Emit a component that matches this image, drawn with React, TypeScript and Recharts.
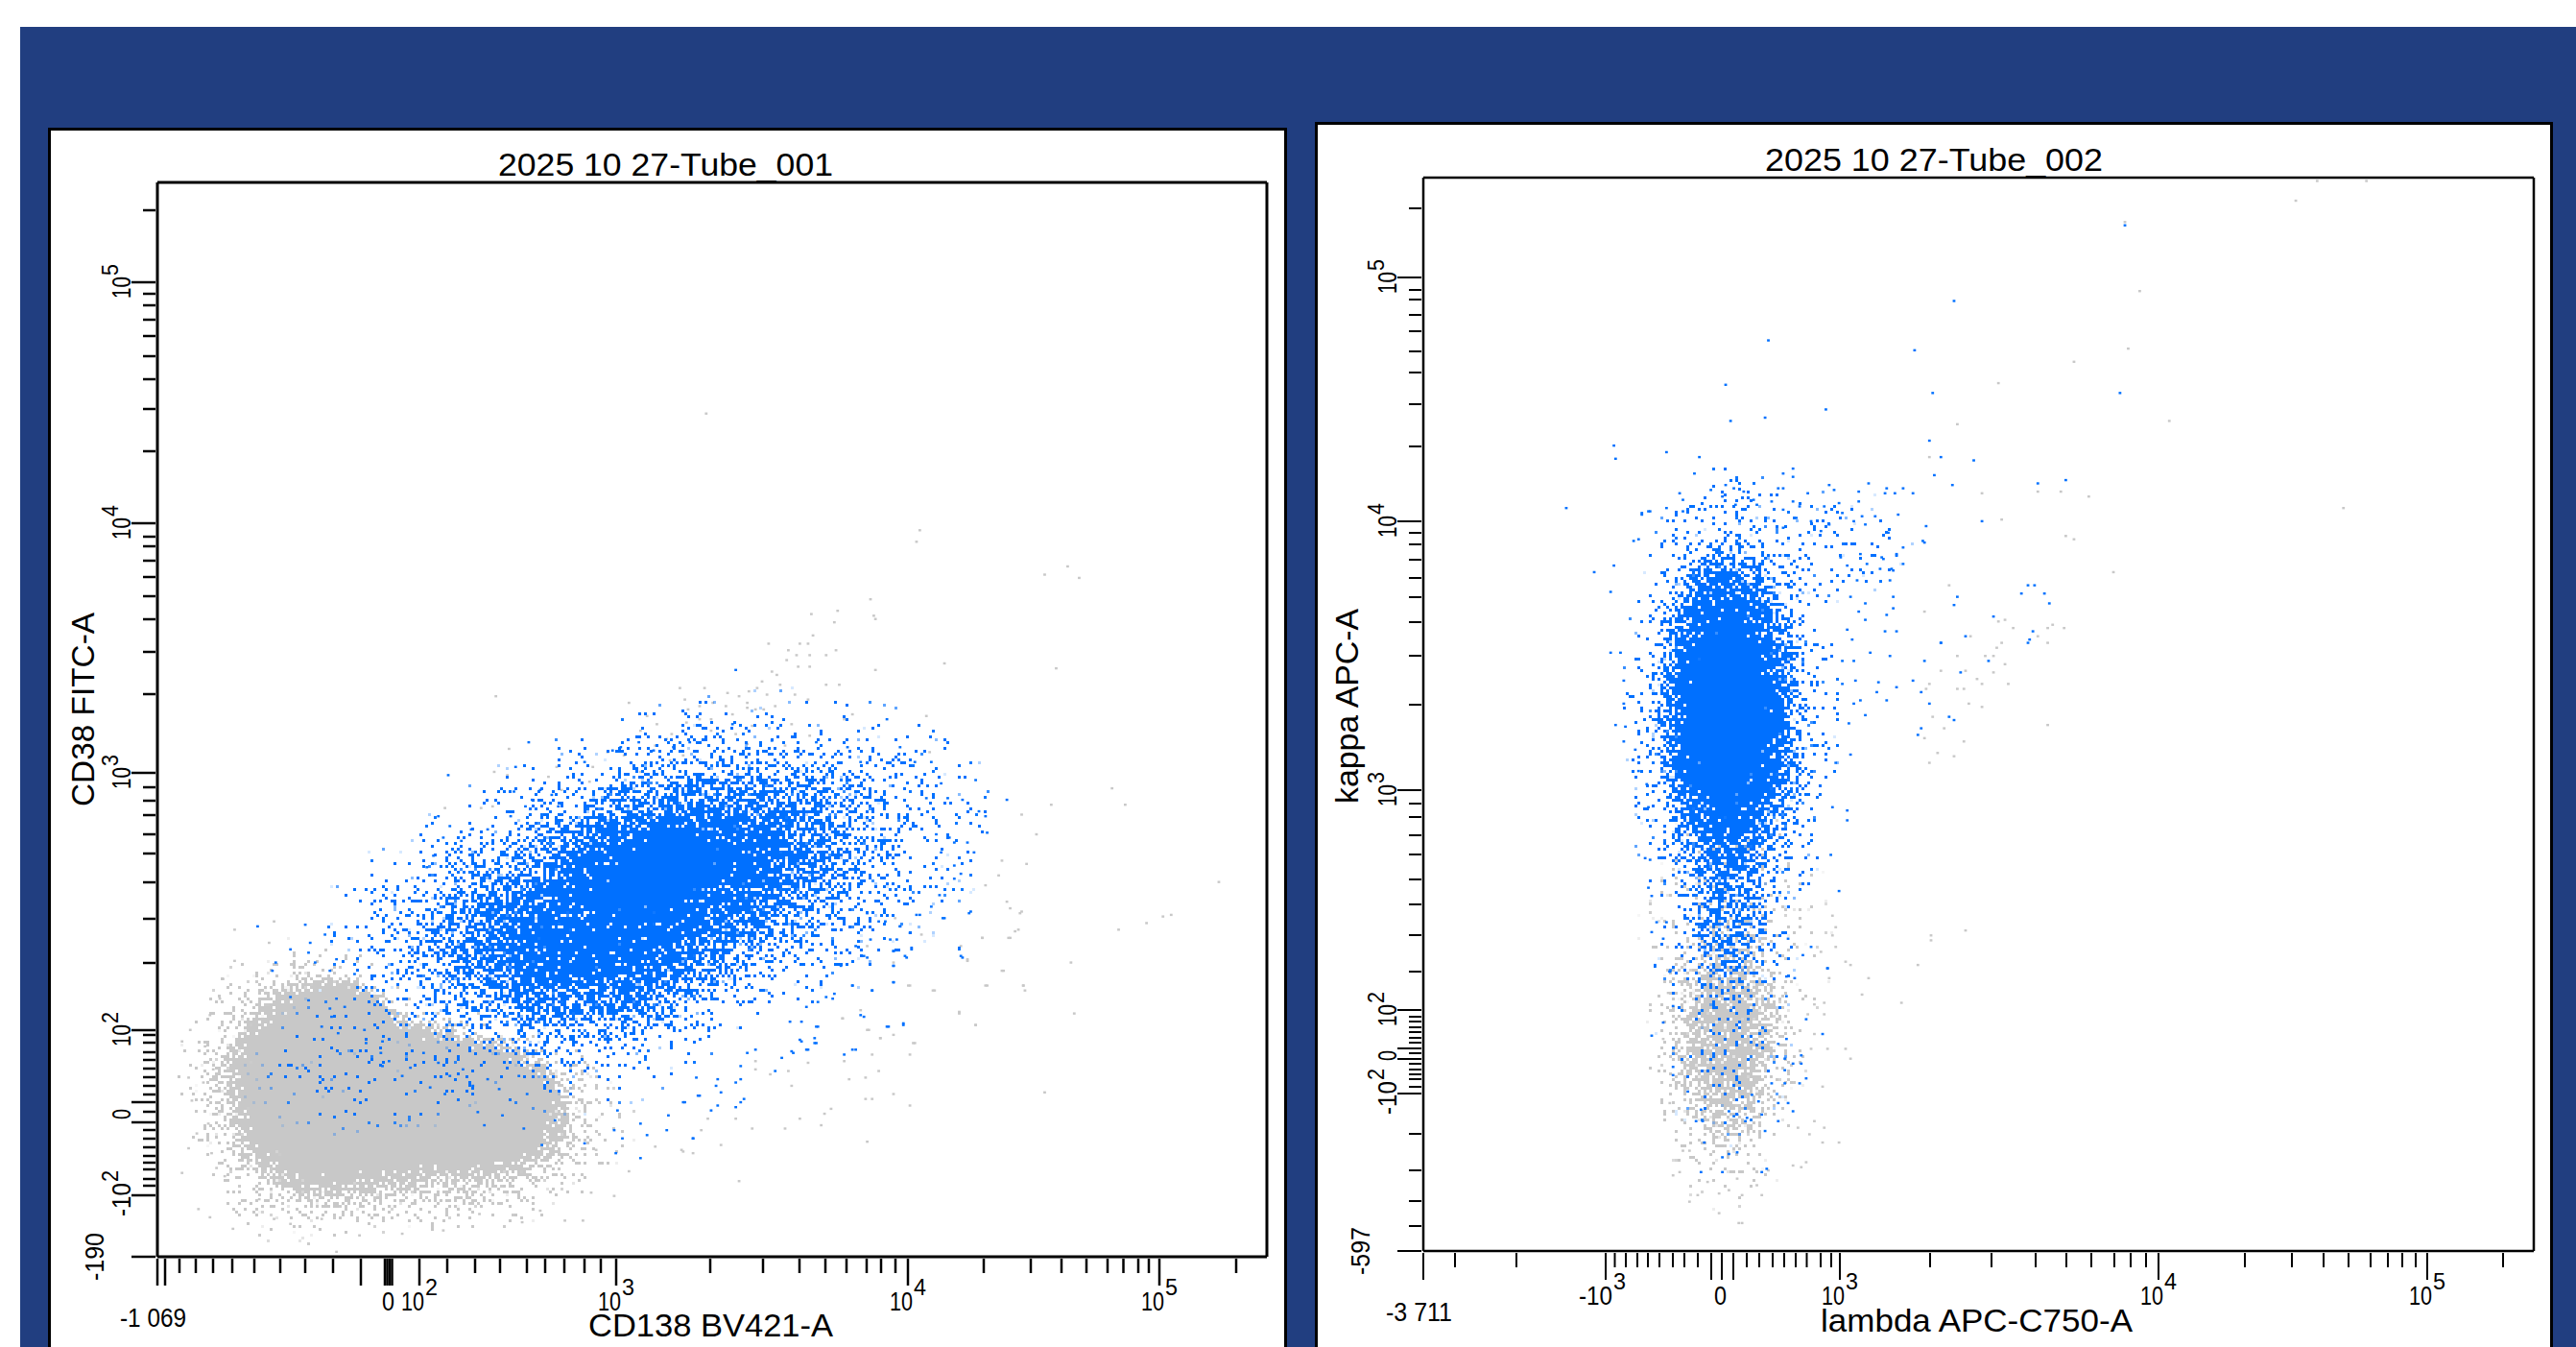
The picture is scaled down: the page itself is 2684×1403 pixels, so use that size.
import { ScatterChart, Scatter, XAxis, YAxis, ReferenceLine } from 'recharts'

// all values are display channels of the biexponential cytometer scale
const PX_PER_CHANNEL = 1.712

// ---------- Tube_001 : CD138 BV421-A vs CD38 FITC-A ----------
const tube1XTickRaw = [0, 8, 23, 40, 58, 78, 101, 128, 154, 183, 212, 237, 239.5, 242, 244.5, 273, 302, 331, 357, 385, 404, 424, 445, 462, 478, 576, 631, 669, 696, 718, 739, 754, 769, 782, 861, 910, 942, 968, 990, 1006.5, 1022, 1033, 1044, 1124]
const tube1XLong = [0, 8, 212, 237, 239.5, 242, 244.5, 273, 478, 782, 1044]
const tube1XLabels: [number, string, string][] = [[0, '-1 069', ''], [242, '0', ''], [273, '10', '2'], [478, '10', '3'], [782, '10', '4'], [1044, '10', '5']]
const tube1YTickRaw = [1090, 1015, 1003, 991, 976, 959, 938, 914, 883, 839, 764, 750, 740, 725, 708, 688, 664, 630, 586, 504, 489, 475, 460, 440, 420, 390, 352, 306, 236, 231, 223, 213, 205, 196, 187, 178, 169, 161, 151, 140, 132, 123, 114, 105, 98, 91, 81, 74, 64, 0]
const tube1YLong = [1015, 764, 504, 236, 161, 140, 64, 0]
const tube1YLabels: [number, string, string][] = [[1015, '10', '5'], [764, '10', '4'], [504, '10', '3'], [236, '10', '2'], [151, '0', ''], [64, '-10', '2'], [0, '-190', '']]

// population density [x, y, rx, ry, tilt, weight]
const tube1GrayDensity = [
  [100, 105, 62, 70, 0, 1], [112, 130, 38, 42, 0, 1], [150, 95, 88, 55, 0, 1], [195, 90, 62, 45, 0, 1],
  [92, 100, 82, 96, 0, 0.4], [165, 82, 128, 70, 0, 0.4],
]
const tube1BlueDensity = [
  [318, 232, 200, 106, -15, 0.72], [262, 172, 112, 85, -15, 0.42], [185, 196, 90, 68, 0, 0.25],
  [150, 128, 105, 55, -15, 0.09], [308, 236, 68, 38, -15, 0.85], [262, 186, 55, 30, 0, 0.4],
]

const tube1GrayEvents = [
  [449, 206], [525, 209], [617, 208], [602, 203], [585, 199], [522, 198], [502, 194], [518, 194], [465, 196], [432, 189], [489, 189], [493, 181], [556, 179], [514, 174], [448, 179], [458, 165], [472, 162], [504, 165], [527, 165], [528, 162], [488, 148], [558, 148], [498, 141], [428, 150], [417, 145], [433, 138], [448, 135], [440, 133], [460, 130], [435, 123], [458, 123], [418, 119], [439, 113], [431, 109], [421, 108], [386, 104], [373, 111], [384, 113], [364, 119], [364, 114], [396, 118], [448, 99], [431, 96], [435, 96], [458, 92], [540, 100], [410, 90], [406, 87], [404, 80], [391, 84], [362, 78], [382, 78], [352, 84], [335, 84], [331, 77], [343, 68], [432, 70], [326, 63], [319, 65], [354, 46],
  [47, 199], [71, 204], [68, 191], [47, 180], [40, 169], [38, 157], [32, 147], [20, 138], [15, 131], [29, 128], [34, 114], [19, 109], [28, 106], [21, 95], [31, 81], [24, 75], [19, 66], [33, 63], [15, 51], [36, 54], [41, 49], [25, 29], [32, 24], [46, 17], [71, 23], [81, 20], [62, 35], [100, 23], [109, 3], [123, 13], [149, 14], [174, 16], [196, 26], [222, 21], [233, 28], [259, 22], [248, 22], [278, 37], [264, 39], [287, 52], [267, 65], [320, 64], [303, 67],
  [398, 391], [412, 386], [437, 388], [399, 378], [372, 373], [391, 373], [396, 373], [384, 369], [389, 366], [397, 366], [407, 366], [413, 369], [383, 363], [390, 359], [397, 359], [374, 356], [377, 354], [437, 357], [479, 361], [368, 350], [407, 348], [415, 348], [379, 348], [333, 346], [318, 346], [347, 343], [360, 344], [365, 346], [206, 341], [287, 337], [321, 339], [354, 341], [359, 337], [371, 342], [388, 342], [396, 339], [338, 337], [323, 333], [330, 335], [346, 335], [359, 334], [364, 333], [369, 333], [376, 335], [350, 330], [298, 329], [330, 327], [337, 327], [322, 325], [304, 324], [362, 323], [386, 324], [418, 327], [423, 330], [468, 329], [294, 320], [313, 318], [337, 320], [352, 318], [397, 317], [310, 315], [382, 311], [359, 312], [214, 309], [284, 305], [274, 307], [470, 307], [303, 311], [320, 305], [312, 302], [243, 298], [205, 295], [213, 293], [238, 292], [265, 298], [294, 295], [263, 289], [246, 284], [175, 273], [197, 273], [204, 274], [526, 269], [535, 257], [514, 241], [529, 239], [512, 232], [504, 226], [517, 216], [519, 212], [526, 210], [524, 199], [519, 194], [502, 194], [493, 180], [515, 174], [505, 165], [527, 165], [473, 162], [457, 165], [488, 149], [498, 141], [417, 145], [432, 138], [440, 133], [461, 130],
  [334, 513], [464, 442], [462, 435], [554, 420], [540, 415], [561, 413], [434, 400], [414, 393], [436, 390], [547, 358], [581, 285], [589, 275], [544, 275], [612, 207], [646, 228],
]
const tube1BlueEvents = [
  [464, 208], [479, 206], [494, 209], [458, 197], [432, 209], [439, 204], [443, 204], [452, 201], [446, 193], [450, 193], [434, 193], [425, 189], [459, 187], [448, 186], [488, 187], [490, 182], [456, 182], [432, 182], [448, 177], [416, 177], [448, 167], [423, 165], [435, 162], [412, 160], [407, 158], [411, 157], [402, 155], [395, 152], [430, 146], [454, 141], [445, 140], [402, 140], [385, 143], [392, 143], [400, 133], [401, 130], [392, 131], [425, 126], [418, 123], [396, 126], [387, 124], [380, 121], [364, 126], [359, 124], [376, 113], [355, 116], [355, 108], [352, 106], [341, 108], [340, 104], [343, 100], [357, 96], [355, 94], [352, 91], [341, 92], [337, 89], [330, 98], [328, 109], [321, 94], [326, 72],
  [352, 357], [444, 327], [350, 324], [374, 314], [226, 313], [293, 313], [420, 310], [452, 310], [401, 313], [177, 293], [218, 298], [260, 301], [277, 308], [282, 310], [302, 308], [314, 310], [324, 313], [428, 301], [461, 301], [471, 301], [217, 283], [233, 284], [240, 281], [224, 274], [228, 278], [215, 268], [171, 268], [244, 274], [498, 290], [477, 288], [468, 279], [481, 279], [490, 278], [517, 278], [500, 271], [504, 268], [505, 258], [474, 257], [482, 255], [485, 252], [497, 246], [493, 252], [477, 246], [485, 238], [489, 233], [485, 230], [474, 225], [476, 220], [471, 213], [495, 210], [478, 206], [462, 208], [452, 201], [488, 188], [489, 183], [459, 188], [455, 183], [448, 186], [448, 177], [448, 167], [423, 165], [435, 162], [430, 183], [454, 142], [444, 140], [401, 140], [428, 147], [400, 130], [391, 132], [423, 126], [395, 126], [386, 125], [164, 237], [168, 244], [174, 255], [178, 262], [185, 253], [191, 260], [201, 260],
  [61, 201], [90, 202], [102, 196], [93, 191], [81, 187], [92, 185], [72, 179], [70, 174], [96, 179], [105, 174], [109, 181], [120, 172], [81, 158], [92, 156], [109, 157], [105, 151], [114, 152], [106, 146], [100, 140], [110, 136], [126, 138], [127, 130], [137, 131], [136, 124], [141, 119], [137, 116], [149, 110], [154, 115], [166, 103], [175, 99], [195, 88], [199, 80], [210, 86], [223, 78], [242, 83], [278, 77], [283, 72], [298, 74], [310, 77], [326, 72], [279, 63], [294, 60], [234, 68], [260, 69], [311, 86], [320, 94], [329, 98], [294, 81], [280, 89], [162, 124], [171, 118], [178, 110], [186, 114], [192, 104], [201, 108], [208, 102], [220, 110], [225, 99],
]

// ---------- Tube_002 : lambda APC-C750-A vs kappa APC-A ----------
const tube2XTickRaw = [0, 33, 97, 190, 199.5, 211, 223, 234, 246, 260, 272, 286, 300, 311, 323, 337, 350, 364, 376, 388, 399.5, 414, 425, 434, 528, 592, 638, 670, 696, 720, 737, 753, 766, 856, 905, 938, 964, 987, 1005, 1020, 1034, 1046, 1125]
const tube2XLong = [0, 190, 300, 311, 323, 434, 766, 1046]
const tube2XLabels: [number, string, string][] = [[0, '-3 711', ''], [190, '-10', '3'], [311, '0', ''], [434, '10', '3'], [766, '10', '4'], [1046, '10', '5']]
const tube2YTickRaw = [1086, 1014, 1001, 991, 975, 958, 937, 915, 882, 838, 760, 748, 736, 720, 701, 681, 655, 620, 569, 480, 466, 452, 433, 413, 387, 361, 329, 291, 251, 244, 239, 233, 228, 222, 217, 211, 206, 200, 195, 189, 184, 179, 171, 164, 122, 84, 52, 26, 0]
const tube2YLong = [1014, 760, 480, 251, 211, 200, 164, 0]
const tube2YLabels: [number, string, string][] = [[1014, '10', '5'], [760, '10', '4'], [480, '10', '3'], [251, '10', '2'], [206, '0', ''], [164, '-10', '2'], [0, '-597', '']]

const tube2GrayDensity = [
  [185, 125, 50, 85, 0, 0.7], [190, 185, 62, 95, 0, 0.2], [185, 62, 38, 42, 0, 0.12],
]
const tube2BlueDensity = [
  [187, 325, 68, 158, 0, 0.85], [183, 330, 45, 112, 0, 0.8], [185, 192, 44, 72, 0, 0.35],
  [250, 430, 52, 36, 0, 0.14], [185, 130, 45, 72, 0, 0.08],
]

const tube2GrayEvents = [
  [544, 651], [574, 651], [531, 639], [427, 626], [436, 584], [429, 549], [396, 541], [350, 528], [454, 505], [325, 503], [308, 483], [340, 461], [352, 445], [374, 462], [388, 462], [405, 459], [560, 452], [391, 435], [396, 433], [420, 413], [320, 405], [305, 389], [350, 383], [354, 384], [359, 379], [380, 379], [383, 381], [390, 379], [333, 374], [374, 374], [352, 370], [380, 370], [349, 367], [325, 362], [342, 362], [347, 362], [354, 357], [315, 353], [330, 353], [347, 352], [337, 348], [340, 345], [356, 345], [308, 345], [306, 342], [325, 342], [329, 342], [332, 333], [340, 331], [310, 325], [380, 320], [317, 318], [305, 312], [329, 310], [313, 303], [323, 301], [308, 297],
  [249, 204], [251, 197], [249, 192], [309, 192], [330, 195], [309, 189], [251, 185], [242, 182], [257, 176], [260, 174], [301, 174], [271, 166], [247, 166], [267, 156], [291, 151], [238, 150], [244, 151], [244, 144], [234, 144], [238, 132], [257, 123], [236, 123], [246, 123], [260, 117], [243, 100], [238, 79], [244, 75], [235, 71], [228, 75], [243, 66], [253, 66], [233, 54], [225, 52], [230, 51], [210, 49], [206, 34], [203, 40], [192, 17], [194, 17], [180, 23], [162, 30], [167, 34], [180, 35], [186, 37], [194, 34], [173, 42], [152, 46], [156, 48], [191, 44], [158, 61], [162, 61], [150, 90], [152, 120], [146, 129], [149, 157],
]
const tube2BlueEvents = [
  [427, 624], [323, 578], [310, 522], [424, 522], [308, 493], [315, 483], [335, 481], [311, 472], [322, 466], [374, 467], [391, 469], [340, 444], [306, 441], [305, 431], [368, 405], [372, 405], [364, 400], [378, 400], [381, 394], [325, 398], [323, 393], [347, 386], [371, 377], [369, 372], [368, 370], [330, 374], [315, 370], [305, 359], [344, 359], [327, 352], [303, 340], [308, 333], [320, 325], [323, 323], [303, 318],
  [210, 554], [299, 548], [184, 527], [245, 512], [208, 507], [187, 505], [116, 490], [148, 486], [117, 482], [168, 483], [225, 476], [219, 473], [225, 471], [165, 473], [184, 466], [189, 464], [247, 466], [271, 467], [216, 464], [219, 464], [282, 464], [292, 464], [250, 463], [265, 462], [281, 461], [287, 461], [298, 461], [175, 463], [156, 461], [195, 462], [234, 461], [158, 457], [87, 452], [148, 452], [138, 450], [133, 449], [158, 450], [182, 459], [182, 453], [190, 454], [201, 457], [203, 454], [212, 456], [219, 451], [225, 456], [229, 453], [244, 453], [253, 455], [265, 456], [255, 449], [289, 448], [275, 447], [267, 447], [304, 432], [283, 437], [269, 442], [262, 444], [236, 444], [227, 446], [247, 442], [242, 438], [219, 440], [279, 422], [292, 428], [288, 424], [270, 418], [258, 417], [292, 418], [278, 415], [285, 415], [266, 424], [254, 422], [116, 417], [104, 413], [131, 433], [128, 432],
  [286, 414], [288, 423], [280, 421], [284, 408], [286, 398], [286, 391], [282, 387], [269, 394], [265, 389], [269, 384], [264, 408], [260, 398], [258, 378], [261, 372], [281, 377], [288, 377], [315, 370], [272, 364], [284, 362], [255, 359], [262, 359], [255, 345], [263, 347], [277, 346], [298, 347], [288, 343], [276, 340], [266, 335], [282, 335], [262, 333], [269, 326], [259, 321], [301, 314], [260, 302], [251, 297], [249, 270], [258, 268], [258, 262], [248, 241], [253, 219], [246, 172], [133, 448], [137, 450], [114, 401], [114, 364], [120, 364], [122, 347], [117, 320], [123, 319], [122, 310], [122, 333], [129, 305], [131, 292], [136, 284], [137, 270], [135, 239], [138, 238], [137, 221], [139, 216], [139, 194], [141, 173], [146, 190], [150, 170], [148, 200], [142, 200],
  [141, 174], [150, 170], [146, 139], [139, 131], [152, 149], [152, 112], [152, 107], [230, 119], [225, 114], [230, 114], [220, 117], [220, 110], [233, 105], [229, 102], [220, 102], [212, 102], [222, 90], [216, 90], [225, 85], [216, 79], [208, 73], [206, 83], [200, 95], [204, 91], [197, 81], [196, 79], [186, 85], [191, 83], [189, 82], [170, 79], [166, 79], [169, 86], [161, 97], [171, 66], [186, 59], [182, 57], [191, 60], [209, 50], [206, 48], [182, 48], [169, 48], [243, 132], [233, 141], [221, 129], [216, 126], [246, 172], [236, 185], [231, 180], [222, 190], [221, 167], [226, 166], [221, 155],
]

const BLUE = '#0070ff'
const GRAY = '#c8c8c8'
const FONT = '"Liberation Sans", Arial, sans-serif'

const toEvents = (rows: number[][]) => rows.map(([x, y]) => ({ x, y }))
const toDensity = (rows: number[][]) => rows.map(([x, y, rx, ry, tilt, weight]) => ({ x, y, rx, ry, tilt, weight }))
const toCh = (v: number) => v / PX_PER_CHANNEL

// turns the smooth density into blocky over-plotted dots, like the cytometer's dot plot
function DotFilter({ id, color, seed }: { id: string; color: string; seed: number }) {
  return (
    <filter id={id} filterUnits="userSpaceOnUse" x={0} y={0} width={1300} height={1300} colorInterpolationFilters="sRGB">
      <feTurbulence type="fractalNoise" baseFrequency="0.41" numOctaves={1} seed={seed} result="grain" />
      <feColorMatrix in="grain" type="matrix" values="0 0 0 0 0  0 0 0 0 0  0 0 0 0 0  0 0 0 2.4 -0.7" result="grainA" />
      <feComposite in="SourceAlpha" in2="grainA" operator="arithmetic" k1={0} k2={1.2} k3={1} k4={-1} result="sum" />
      <feComponentTransfer in="sum" result="hard">
        <feFuncA type="linear" slope={40} intercept={0} />
      </feComponentTransfer>
      <feFlood x={1} y={1} width={1} height={1} floodColor="#000" />
      <feComposite width={3} height={3} />
      <feTile result="cells" />
      <feComposite in="hard" in2="cells" operator="in" />
      <feMorphology operator="dilate" radius={1} result="blocks" />
      <feFlood floodColor={color} result="ink" />
      <feComposite in="ink" in2="blocks" operator="in" />
    </filter>
  )
}

const densityShape = (fill: string) => (p: any) => (
  <ellipse
    cx={p.cx}
    cy={p.cy}
    rx={p.payload.rx * PX_PER_CHANNEL}
    ry={p.payload.ry * PX_PER_CHANNEL}
    transform={`rotate(${p.payload.tilt} ${p.cx} ${p.cy})`}
    fill={fill}
    fillOpacity={p.payload.weight}
  />
)

const eventShape = (fill: string) => (p: any) => (
  <rect x={p.cx - 1.4} y={p.cy - 1.2} width={2.8} height={2.4} fill={fill} />
)

const NUM_W: Record<string, number> = { '-1 069': 69, '-3 711': 69, '0': 13, '10': 24, '-10': 35 }
const NUM_DX: Record<string, number> = { '-1 069': -39, '-3 711': -39, '0': -8, '10': -19, '-10': -28 }

function XTick({ x, y, payload, long, labels, axisW }: any) {
  const raw = payload.value * PX_PER_CHANNEL
  const isLong = long.some((v: number) => Math.abs(v - raw) < 0.05)
  const lab = labels.find((l: any) => Math.abs(l[0] - raw) < 0.05)
  let txt = null
  if (lab) {
    const [, t, e] = lab
    const big = t.includes(' ')
    const sx = x + NUM_DX[t]
    txt = (
      <>
        <text x={sx} y={y + (big ? 71 : 54)} fontFamily={FONT} fontSize={28} fill="#000" textLength={NUM_W[t]} lengthAdjust="spacingAndGlyphs">{t}</text>
        {e && <text x={sx + NUM_W[t] + 1} y={y + 38} fontFamily={FONT} fontSize={23} fill="#000" textLength={13} lengthAdjust="spacingAndGlyphs">{e}</text>}
      </>
    )
  }
  return (
    <g>
      <line x1={x} x2={x} y1={y} y2={y + (isLong ? 28 : 15)} stroke="#000" strokeWidth={axisW} />
      {txt}
    </g>
  )
}

function YTick({ x, y, payload, long, labels, axisW }: any) {
  const raw = payload.value * PX_PER_CHANNEL
  const isLong = long.some((v: number) => Math.abs(v - raw) < 0.05)
  const lab = labels.find((l: any) => Math.abs(l[0] - raw) < 0.05)
  let txt = null
  if (lab) {
    const [, t, e] = lab
    const big = t === '-190' || t === '-597'
    const len = big ? 50 : t === '-10' ? 35 : t === '0' ? 11 : 23
    const start = y + (big ? 25 : t === '-10' ? 22 : t === '0' ? 8 : 17)
    const bx = x - (big ? 54 : 26)
    const ex = x - 39
    const ey = start - len - 1
    txt = (
      <>
        <text x={bx} y={start} transform={`rotate(-90 ${bx} ${start})`} fontFamily={FONT} fontSize={28} fill="#000" textLength={len} lengthAdjust="spacingAndGlyphs">{t}</text>
        {e && <text x={ex} y={ey} transform={`rotate(-90 ${ex} ${ey})`} fontFamily={FONT} fontSize={23} fill="#000" textLength={12} lengthAdjust="spacingAndGlyphs">{e}</text>}
      </>
    )
  }
  return (
    <g>
      <line x1={x} x2={x - (isLong ? 25 : 13)} y1={y} y2={y} stroke="#000" strokeWidth={axisW} />
      {txt}
    </g>
  )
}

function BioPlot({ frame, plot, axisW, xTicks, xLong, xLabels, yTicks, yLong, yLabels, layers, title, xName, yName }: any) {
  const xMax = toCh(frame.w - plot.left - plot.right)
  const yMax = toCh(frame.h - plot.top - plot.bottom)
  return (
    <div style={{ position: 'absolute', left: frame.x, top: frame.y, width: frame.w, height: frame.h, background: '#fff' }}>
      <ScatterChart
        width={frame.w}
        height={frame.h}
        margin={{ left: plot.left - 100, top: plot.top, right: plot.right, bottom: plot.bottom - 80 }}
      >
        <XAxis
          type="number"
          dataKey="x"
          domain={[0, xMax]}
          allowDataOverflow
          ticks={xTicks.map(toCh)}
          interval={0}
          height={80}
          tickSize={0}
          tickLine={false}
          axisLine={{ stroke: '#000', strokeWidth: axisW }}
          tick={(p: any) => <XTick {...p} long={xLong} labels={xLabels} axisW={axisW - 0.5} />}
        />
        <YAxis
          type="number"
          dataKey="y"
          domain={[0, yMax]}
          allowDataOverflow
          ticks={yTicks.map(toCh)}
          interval={0}
          width={100}
          tickSize={0}
          tickLine={false}
          axisLine={{ stroke: '#000', strokeWidth: axisW }}
          tick={(p: any) => <YTick {...p} long={yLong} labels={yLabels} axisW={axisW - 0.5} />}
        />
        {layers.map((l: any, i: number) => (
          <Scatter
            key={i}
            className={l.className}
            data={l.data}
            isAnimationActive={false}
            shape={l.kind === 'event' ? eventShape(l.fill) : densityShape(l.fill)}
          />
        ))}
        <ReferenceLine y={yMax} stroke="#000" strokeWidth={axisW} />
        <ReferenceLine x={xMax} stroke="#000" strokeWidth={axisW} />
        <text x={title.x} y={title.y} fontFamily={FONT} fontSize={34} fill="#000" textLength={title.len} lengthAdjust="spacingAndGlyphs">{title.text}</text>
        <text x={xName.x} y={xName.y} fontFamily={FONT} fontSize={34} fill="#000" textLength={xName.len} lengthAdjust="spacingAndGlyphs">{xName.text}</text>
        <text x={yName.x} y={yName.y} transform={`rotate(-90 ${yName.x} ${yName.y})`} fontFamily={FONT} fontSize={34} fill="#000" textLength={yName.len} lengthAdjust="spacingAndGlyphs">{yName.text}</text>
      </ScatterChart>
      <div style={{ position: 'absolute', inset: 0, border: '3px solid #000', boxSizing: 'border-box', borderBottom: 'none', pointerEvents: 'none' }} />
    </div>
  )
}

const tube1Layers = [
  { data: toDensity(tube1GrayDensity), fill: 'url(#plateau)', className: 'gray-dots' },
  { data: toEvents(tube1GrayEvents), fill: GRAY, kind: 'event' },
  { data: toDensity(tube1BlueDensity), fill: 'url(#falloff)', className: 'blue-dots' },
  { data: toEvents(tube1BlueEvents), fill: BLUE, kind: 'event' },
]

const tube2Layers = [
  { data: toDensity(tube2GrayDensity), fill: 'url(#falloff)', className: 'gray-dots' },
  { data: toEvents(tube2GrayEvents), fill: GRAY, kind: 'event' },
  { data: toDensity(tube2BlueDensity), fill: 'url(#falloff)', className: 'blue-dots' },
  { data: toEvents(tube2BlueEvents), fill: BLUE, kind: 'event' },
]

export default function App() {
  return (
    <div style={{ position: 'absolute', left: 0, top: 0, width: 2684, height: 1403, background: '#fff', overflow: 'hidden' }}>
      <style>{`.gray-dots{filter:url(#grayDots)} .blue-dots{filter:url(#blueDots)}`}</style>
      <svg width={0} height={0} style={{ position: 'absolute' }}>
        <defs>
          <radialGradient id="falloff">
            <stop offset="0" stopColor="#000" stopOpacity={1} />
            <stop offset="0.3" stopColor="#000" stopOpacity={0.85} />
            <stop offset="0.55" stopColor="#000" stopOpacity={0.5} />
            <stop offset="0.75" stopColor="#000" stopOpacity={0.22} />
            <stop offset="0.9" stopColor="#000" stopOpacity={0.07} />
            <stop offset="1" stopColor="#000" stopOpacity={0} />
          </radialGradient>
          <radialGradient id="plateau">
            <stop offset="0" stopColor="#000" stopOpacity={1} />
            <stop offset="0.6" stopColor="#000" stopOpacity={1} />
            <stop offset="0.75" stopColor="#000" stopOpacity={0.6} />
            <stop offset="0.9" stopColor="#000" stopOpacity={0.2} />
            <stop offset="1" stopColor="#000" stopOpacity={0} />
          </radialGradient>
          <DotFilter id="grayDots" color={GRAY} seed={3} />
          <DotFilter id="blueDots" color={BLUE} seed={11} />
        </defs>
      </svg>
      <div style={{ position: 'absolute', left: 21, top: 28, width: 2663, height: 1375, background: '#213e80' }} />
      <BioPlot
        frame={{ x: 50, y: 133, w: 1291, h: 1270 }}
        plot={{ left: 114, top: 57, right: 21, bottom: 94 }}
        axisW={3}
        xTicks={tube1XTickRaw}
        xLong={tube1XLong}
        xLabels={tube1XLabels}
        yTicks={tube1YTickRaw}
        yLong={tube1YLong}
        yLabels={tube1YLabels}
        layers={tube1Layers}
        title={{ text: '2025 10 27-Tube_001', x: 469, y: 50, len: 349 }}
        xName={{ text: 'CD138 BV421-A', x: 563, y: 1259, len: 255 }}
        yName={{ text: 'CD38 FITC-A', x: 48, y: 707, len: 202 }}
      />
      <BioPlot
        frame={{ x: 1370, y: 127, w: 1290, h: 1276 }}
        plot={{ left: 113, top: 58, right: 20, bottom: 100 }}
        axisW={2.5}
        xTicks={tube2XTickRaw}
        xLong={tube2XLong}
        xLabels={tube2XLabels}
        yTicks={tube2YTickRaw}
        yLong={tube2YLong}
        yLabels={tube2YLabels}
        layers={tube2Layers}
        title={{ text: '2025 10 27-Tube_002', x: 469, y: 51, len: 352 }}
        xName={{ text: 'lambda APC-C750-A', x: 527, y: 1260, len: 325 }}
        yName={{ text: 'kappa APC-A', x: 45, y: 710, len: 203 }}
      />
    </div>
  )
}
